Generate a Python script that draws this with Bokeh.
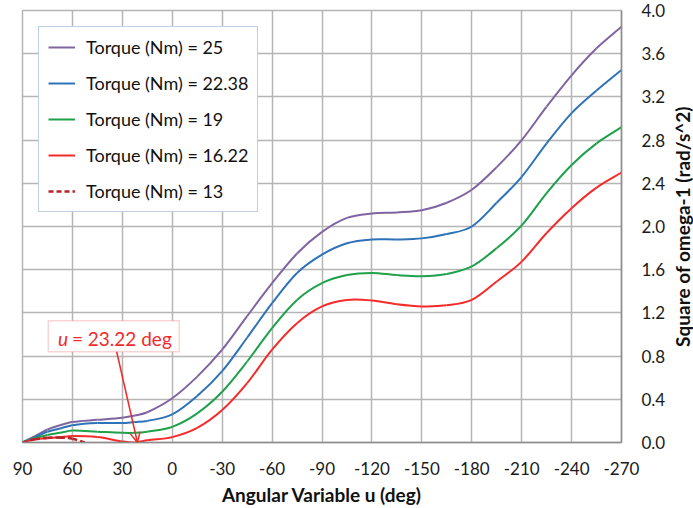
import math
from bokeh.plotting import figure
from bokeh.layouts import row
from bokeh.models import (Range1d, FixedTicker, NumeralTickFormatter, Legend, LegendItem,
                          Label, BoxAnnotation, Arrow, OpenHead)
from bokeh.embed import file_html
from bokeh.resources import INLINE

# ---- data ----
u_deg = [90, 82.5, 75, 67.5, 60, 45, 30, 22.5, 15, 0, -15, -30, -45, -60, -75, -90,
         -105, -120, -135, -150, -165, -180, -195, -210, -225, -240, -255, -270]
torque_25 = [0, 0.06, 0.12, 0.16, 0.19, 0.21, 0.23, 0.25, 0.28, 0.41, 0.61, 0.86, 1.17, 1.475,
             1.75, 1.95, 2.08, 2.12, 2.13, 2.15, 2.22, 2.34, 2.55, 2.80, 3.11, 3.40, 3.65, 3.85]
torque_22_38 = [0, 0.05, 0.10, 0.13, 0.16, 0.18, 0.18, 0.19, 0.20, 0.26, 0.43, 0.66, 0.97, 1.29,
                1.57, 1.74, 1.845, 1.88, 1.88, 1.89, 1.93, 2.00, 2.22, 2.46, 2.77, 3.05, 3.26, 3.45]
torque_19 = [0, 0.04, 0.07, 0.09, 0.11, 0.10, 0.09, 0.09, 0.10, 0.145, 0.27, 0.47, 0.75, 1.06,
             1.32, 1.475, 1.55, 1.57, 1.55, 1.54, 1.56, 1.63, 1.80, 2.01, 2.31, 2.57, 2.77, 2.92]
torque_16_22 = [0, 0.03, 0.04, 0.05, 0.06, 0.05, 0.01, 0.0, 0.02, 0.05, 0.135, 0.30, 0.55, 0.86,
                1.105, 1.26, 1.32, 1.315, 1.28, 1.26, 1.27, 1.32, 1.49, 1.675, 1.94, 2.17, 2.36, 2.50]
u_13 = [90, 82.5, 75, 67.5, 60, 52.5]
torque_13 = [0, 0.03, 0.045, 0.045, 0.035, 0.0]

series_names = ["Torque (Nm) = 25", "Torque (Nm) = 22.38", "Torque (Nm) = 19",
                "Torque (Nm) = 16.22", "Torque (Nm) = 13"]
x_ticks = [90, 60, 30, 0, -30, -60, -90, -120, -150, -180, -210, -240, -270]
x_tick_labels = ["90", "60", "30", "0", "-30", "-60", "-90", "-120", "-150", "-180",
                 "-210", "-240", "-270"]
y_ticks = [0.0, 0.4, 0.8, 1.2, 1.6, 2.0, 2.4, 2.8, 3.2, 3.6, 4.0]
x_title = "Angular Variable u (deg)"
y_title = "Square of omega-1 (rad/s^2)"
annot_var = "u"
annot_text = "= 23.22 deg"
annot_u = 23.22

FONT = "Lato"
GRID = "#b5b5b5"
RED_TXT = "#f02a2a"


def smooth_segments(xs, ys):
    """Cubic Hermite (Excel-like smoothed line) bezier control points through the data."""
    n = len(xs)
    m = []
    for i in range(n):
        if i == 0:
            m.append((ys[1] - ys[0]) / (xs[1] - xs[0]))
        elif i == n - 1:
            m.append((ys[-1] - ys[-2]) / (xs[-1] - xs[-2]))
        else:
            m.append((ys[i + 1] - ys[i - 1]) / (xs[i + 1] - xs[i - 1]))
    d = dict(x0=[], y0=[], x1=[], y1=[], cx0=[], cy0=[], cx1=[], cy1=[])
    for i in range(n - 1):
        h = xs[i + 1] - xs[i]
        d["x0"].append(xs[i]); d["y0"].append(ys[i])
        d["x1"].append(xs[i + 1]); d["y1"].append(ys[i + 1])
        d["cx0"].append(xs[i] + h / 3); d["cy0"].append(ys[i] + m[i] * h / 3)
        d["cx1"].append(xs[i + 1] - h / 3); d["cy1"].append(ys[i + 1] - m[i + 1] * h / 3)
    return d


fig = figure(width=668, height=508, output_backend="svg", toolbar_location=None,
             x_range=Range1d(90, -270), y_range=Range1d(0, 4.0),
             y_axis_location="right",
             min_border_left=22, min_border_right=42, min_border_top=10, min_border_bottom=65)
fig.background_fill_color = "white"
fig.border_fill_color = "white"
fig.outline_line_color = GRID
fig.outline_line_width = 1.5

fig.xgrid.ticker = FixedTicker(ticks=x_ticks)
fig.ygrid.ticker = FixedTicker(ticks=y_ticks)
for g in (fig.xgrid[0], fig.ygrid[0]):
    g.grid_line_color = GRID
    g.grid_line_width = 1.5

xa = fig.xaxis[0]
ya = fig.yaxis[0]
xa.ticker = FixedTicker(ticks=x_ticks)
xa.major_label_overrides = {t: s for t, s in zip(x_ticks, x_tick_labels)}
ya.ticker = FixedTicker(ticks=y_ticks)
ya.formatter = NumeralTickFormatter(format="0.0")
for ax in (xa, ya):
    ax.axis_line_color = "#8c8c8c"
    ax.axis_line_width = 1.5
    ax.major_tick_line_color = None
    ax.minor_tick_line_color = None
    ax.major_label_text_font = FONT
    ax.major_label_text_font_size = "17px"
    ax.major_label_text_color = "#1a1a1a"
    ax.axis_label_text_font = FONT
    ax.axis_label_text_font_size = "19px"
    ax.axis_label_text_font_style = "bold"
    ax.axis_label_text_color = "#111111"
xa.axis_label = x_title
xa.major_label_standoff = 13
xa.axis_label_standoff = 5
ya.major_label_standoff = 14

colors = ["#8064a2", "#2e72b8", "#1fa04a", "#f52a2a"]
renderers = []
for ys, c in zip([torque_25, torque_22_38, torque_19, torque_16_22], colors):
    renderers.append(fig.bezier(line_color=c, line_width=2, **smooth_segments(u_deg, ys)))
renderers.append(fig.bezier(line_color="#b8232a", line_width=2.5, line_dash="5 3",
                            **smooth_segments(u_13, torque_13)))

legend = Legend(items=[LegendItem(label=n, renderers=[r]) for n, r in zip(series_names, renderers)],
                location="top_left")
legend.margin = 16
legend.padding = 9
legend.spacing = 14
legend.glyph_width = 27
legend.glyph_height = 20
legend.label_height = 20
legend.label_standoff = 11
legend.label_text_font = FONT
legend.label_text_font_size = "18px"
legend.label_text_color = "#111111"
legend.border_line_color = "#7f9fca"
legend.border_line_width = 1.2
legend.background_fill_color = "white"
legend.background_fill_alpha = 1.0
fig.add_layout(legend, "center")

fig.add_layout(BoxAnnotation(left=74.5, right=-4.2, bottom=0.84, top=1.127,
                             fill_color="white", fill_alpha=1.0,
                             line_color="#f07070", line_width=1.5))
fig.add_layout(Label(x=68.7, y=0.965, text=annot_var, text_font=FONT, text_font_style="italic",
                     text_font_size="19px", text_color=RED_TXT,
                     text_baseline="middle", text_align="left"))
fig.add_layout(Label(x=60.3, y=0.965, text=annot_text, text_font=FONT,
                     text_font_size="19px", text_color=RED_TXT,
                     text_baseline="middle", text_align="left"))
fig.add_layout(Arrow(end=OpenHead(size=10, line_color=RED_TXT, line_width=1.5),
                     x_start=33.4, y_start=0.84, x_end=annot_u - 2.3, y_end=0.0,
                     line_color=RED_TXT, line_width=1.5))

# narrow side strip carrying the right-hand axis title (reads bottom-to-top)
side = figure(width=25, height=508, output_backend="svg", toolbar_location=None,
              x_range=Range1d(0, 1), y_range=Range1d(0, 1),
              min_border_left=0, min_border_right=0, min_border_top=10, min_border_bottom=65)
side.outline_line_color = None
side.background_fill_color = "white"
side.border_fill_color = "white"
side.xaxis.visible = False
side.xgrid.visible = False
side.ygrid.visible = False
sa = side.yaxis[0]
sa.ticker = FixedTicker(ticks=[])
sa.axis_line_color = None
sa.major_tick_line_color = None
sa.minor_tick_line_color = None
sa.major_label_text_font_size = "0px"
sa.axis_label = y_title
sa.axis_label_standoff = 0
sa.axis_label_text_font = FONT
sa.axis_label_text_font_size = "19px"
sa.axis_label_text_font_style = "bold"
sa.axis_label_text_color = "#111111"

p = row(fig, side, spacing=0)
open("out.html", "w").write(file_html(p, INLINE))
